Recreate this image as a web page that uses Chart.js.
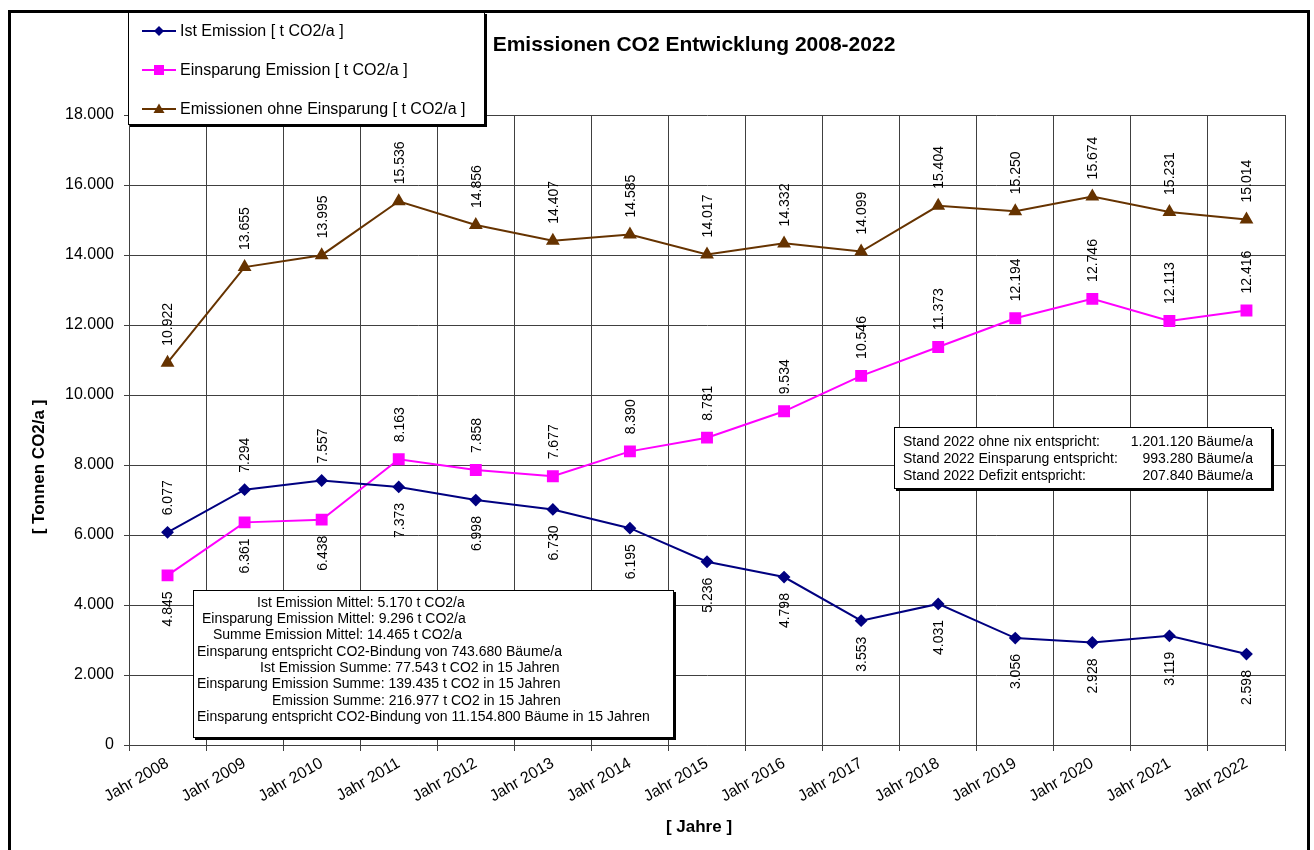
<!DOCTYPE html>
<html>
<head>
<meta charset="utf-8">
<title>Emissionen CO2 Entwicklung 2008-2022</title>
<script src="https://cdn.jsdelivr.net/npm/chart.js@4.4.0/dist/chart.umd.min.js"></script>
<style>
    html, body { margin: 0; padding: 0; background: #fff; }
</style>
</head>
<body>
<canvas id="co2Chart" width="1314" height="850"></canvas>
<script>
// Daten
const jahre = ['Jahr 2008', 'Jahr 2009', 'Jahr 2010', 'Jahr 2011', 'Jahr 2012', 'Jahr 2013', 'Jahr 2014',
    'Jahr 2015', 'Jahr 2016', 'Jahr 2017', 'Jahr 2018', 'Jahr 2019', 'Jahr 2020', 'Jahr 2021', 'Jahr 2022'];
const istEmission = [6077, 7294, 7557, 7373, 6998, 6730, 6195, 5236, 4798, 3553, 4031, 3056, 2928, 3119, 2598];
const einsparung = [4845, 6361, 6438, 8163, 7858, 7677, 8390, 8781, 9534, 10546, 11373, 12194, 12746, 12113, 12416];
const ohneEinsparung = [10922, 13655, 13995, 15536, 14856, 14407, 14585, 14017, 14332, 14099, 15404, 15250, 15674, 15231, 15014];
const yMin = 0;
const yMax = 18000;
const yStep = 2000;

const titel = 'Emissionen CO2 Entwicklung 2008-2022';
const yTitel = '[ Tonnen CO2/a ]';
const xTitel = '[ Jahre ]';
const legendenText = ['Ist Emission [ t CO2/a ]', 'Einsparung Emission [ t CO2/a ]', 'Emissionen ohne Einsparung [ t CO2/a ]'];

const mittelText = [
    'Ist Emission Mittel: 5.170 t CO2/a',
    'Einsparung Emission Mittel: 9.296 t CO2/a',
    'Summe Emission Mittel: 14.465 t CO2/a',
    'Einsparung entspricht CO2-Bindung von 743.680 Bäume/a',
    'Ist Emission Summe: 77.543 t CO2 in 15 Jahren',
    'Einsparung Emission Summe: 139.435 t CO2 in 15 Jahren',
    'Emission Summe: 216.977 t CO2 in 15 Jahren',
    'Einsparung entspricht CO2-Bindung von 11.154.800 Bäume in 15 Jahren'
];
const standText = [
    ['Stand 2022 ohne nix entspricht:', '1.201.120 Bäume/a'],
    ['Stand 2022 Einsparung entspricht:', '993.280 Bäume/a'],
    ['Stand 2022 Defizit entspricht:', '207.840 Bäume/a']
];

const FONT = '"Liberation Sans", Arial, sans-serif';

function fmt(v) {
    return String(v).replace(/\B(?=(\d{3})+(?!\d))/g, '.');
}

function marker(ctx, style, x, y, color) {
    ctx.save();
    ctx.fillStyle = color;
    ctx.beginPath();
    if (style === 'rectRot') {
        ctx.moveTo(x - 5, y); ctx.lineTo(x, y - 5); ctx.lineTo(x + 5, y); ctx.lineTo(x, y + 5);
    } else if (style === 'rect') {
        ctx.rect(x - 5, y - 5, 10, 10);
    } else {
        ctx.moveTo(x - 5.5, y + 4); ctx.lineTo(x, y - 5.5); ctx.lineTo(x + 5.5, y + 4);
    }
    ctx.closePath();
    ctx.fill();
    ctx.restore();
}

function box(ctx, x, y, w, h) {
    ctx.fillStyle = '#000';
    ctx.fillRect(x + 2, y + 2, w, h);
    ctx.fillStyle = '#fff';
    ctx.fillRect(x, y, w, h);
    ctx.strokeStyle = '#000';
    ctx.lineWidth = 1;
    ctx.strokeRect(x + 0.5, y + 0.5, w - 1, h - 1);
    ctx.fillStyle = '#000';
}

const dekoPlugin = {
    id: 'deko',
    beforeDraw(chart) {
        const ctx = chart.ctx;
        ctx.save();
        ctx.fillStyle = '#fff';
        ctx.fillRect(0, 0, chart.width, chart.height);
        ctx.restore();
    },
    afterDatasetsDraw(chart) {
        // Werte an den Punkten, senkrecht
        const ctx = chart.ctx;
        ctx.save();
        ctx.font = '14px ' + FONT;
        ctx.fillStyle = '#000';
        ctx.textBaseline = 'middle';
        chart.data.datasets.forEach(function(ds, d) {
            const meta = chart.getDatasetMeta(d);
            meta.data.forEach(function(pt, i) {
                const unten = ds.labelUnten(i);
                ctx.save();
                ctx.translate(pt.x + 1, pt.y + (unten ? 16 : -17));
                ctx.rotate(-Math.PI / 2);
                ctx.textAlign = unten ? 'right' : 'left';
                ctx.fillText(fmt(ds.data[i]), 0, 0);
                ctx.restore();
            });
        });
        ctx.restore();
    },
    afterDraw(chart) {
        const ctx = chart.ctx;
        ctx.save();

        // Rahmen aussen
        ctx.strokeStyle = '#000';
        ctx.lineWidth = 3;
        ctx.strokeRect(9.5, 11.5, 1299, 860);

        // Titel
        ctx.fillStyle = '#000';
        ctx.font = 'bold 21px ' + FONT;
        ctx.textAlign = 'center';
        ctx.textBaseline = 'middle';
        ctx.fillText(titel, 694, 45);

        // Achsentitel
        ctx.font = 'bold 17px ' + FONT;
        ctx.fillText(xTitel, 699, 827);
        ctx.save();
        ctx.translate(39, 467);
        ctx.rotate(-Math.PI / 2);
        ctx.fillText(yTitel, 0, 0);
        ctx.restore();

        // Legende
        box(ctx, 128, 12, 357, 113);
        ctx.font = '16px ' + FONT;
        ctx.textAlign = 'left';
        chart.data.datasets.forEach(function(ds, d) {
            const y = 31 + d * 39;
            ctx.strokeStyle = ds.borderColor;
            ctx.lineWidth = 2;
            ctx.beginPath();
            ctx.moveTo(142, y);
            ctx.lineTo(176, y);
            ctx.stroke();
            marker(ctx, ds.pointStyle, 159, y, ds.pointBackgroundColor);
            ctx.fillStyle = '#000';
            ctx.fillText(legendenText[d], 180, y + 1);
        });

        // Textfeld Mittelwerte
        box(ctx, 193, 590, 481, 148);
        ctx.font = '14px ' + FONT;
        ctx.textAlign = 'left';
        const startX = [257, 202, 213, 197, 260, 197, 272, 197];
        mittelText.forEach(function(t, i) {
            ctx.fillText(t, startX[i], 603 + i * 16.3);
        });

        // Textfeld Stand 2022
        box(ctx, 894, 427, 378, 62);
        standText.forEach(function(row, i) {
            const y = 442 + i * 17;
            ctx.textAlign = 'left';
            ctx.fillText(row[0], 903, y);
            ctx.textAlign = 'right';
            ctx.fillText(row[1], 1253, y);
        });

        ctx.restore();
    }
};

const ctxCo2 = document.getElementById('co2Chart').getContext('2d');
const co2Chart = new Chart(ctxCo2, {
    type: 'line',
    data: {
        labels: jahre,
        datasets: [{
            label: legendenText[0],
            data: istEmission,
            borderColor: '#000080',
            backgroundColor: '#000080',
            pointBackgroundColor: '#000080',
            pointBorderColor: '#000080',
            pointStyle: 'rectRot',
            pointRadius: 5,
            borderWidth: 2,
            labelUnten: function(i) { return i >= 3; }
        }, {
            label: legendenText[1],
            data: einsparung,
            borderColor: '#FF00FF',
            backgroundColor: '#FF00FF',
            pointBackgroundColor: '#FF00FF',
            pointBorderColor: '#FF00FF',
            pointStyle: 'rect',
            pointRadius: 7,
            borderWidth: 2,
            labelUnten: function(i) { return i < 3; }
        }, {
            label: legendenText[2],
            data: ohneEinsparung,
            borderColor: '#663300',
            backgroundColor: '#663300',
            pointBackgroundColor: '#663300',
            pointBorderColor: '#663300',
            pointStyle: 'triangle',
            pointRadius: 6,
            borderWidth: 2,
            labelUnten: function(i) { return false; }
        }]
    },
    options: {
        responsive: false,
        animation: false,
        devicePixelRatio: 1,
        layout: {
            padding: { top: 115, right: 29, bottom: 0, left: 0 }
        },
        plugins: {
            legend: { display: false },
            title: { display: false },
            tooltip: { enabled: false }
        },
        scales: {
            x: {
                type: 'category',
                offset: true,
                grid: { offset: true, color: '#404040', lineWidth: 1, tickLength: 6 },
                border: { color: '#404040', width: 1 },
                ticks: {
                    color: '#000',
                    font: { family: FONT, size: 16 },
                    minRotation: 30,
                    maxRotation: 30,
                    autoSkip: false,
                    padding: 3
                },
                afterFit: function(scale) { scale.height = 105; }
            },
            y: {
                min: yMin,
                max: yMax,
                grid: { color: '#404040', lineWidth: 1, tickLength: 5 },
                border: { color: '#404040', width: 1 },
                ticks: {
                    stepSize: yStep,
                    color: '#000',
                    font: { family: FONT, size: 16 },
                    padding: 10,
                    callback: function(value) { return fmt(value); }
                },
                afterFit: function(scale) { scale.width = 129; }
            }
        }
    },
    plugins: [dekoPlugin]
});
</script>
</body>
</html>
